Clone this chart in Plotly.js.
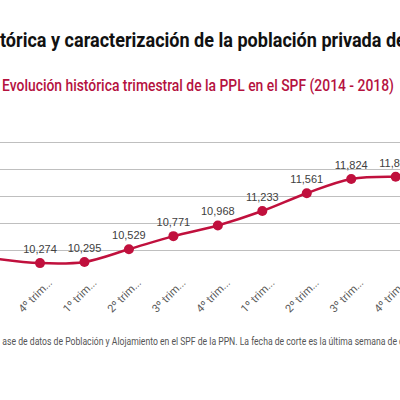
<!DOCTYPE html>
<html>
<head>
<meta charset="utf-8">
<script src="https://cdn.plot.ly/plotly-3.0.1.min.js"></script>
<style>
html,body{margin:0;padding:0;background:#fff;}
#chart{width:400px;height:400px;}
</style>
</head>
<body>
<div id="chart"></div>
<script>
// Data (visible part of the series)
const categories = ["3º trimestre 2015","4º trimestre 2015","1º trimestre 2016","2º trimestre 2016","3º trimestre 2016","4º trimestre 2016","1º trimestre 2017","2º trimestre 2017","3º trimestre 2017","4º trimestre 2017"];
const tickLabels = ["3º trim...","4º trim...","1º trim...","2º trim...","3º trim...","4º trim...","1º trim...","2º trim...","3º trim...","4º trim..."];
const pplValues = [10356, 10274, 10295, 10529, 10771, 10968, 11233, 11561, 11824, 11866];
const gridValues = [10500, 11000, 11500, 12000, 12500];

const titleText = "tórica y caracterización de la población privada de";
const subtitleText = "Evolución histórica trimestral de la PPL en el SPF (2014 - 2018)";
const footerText = "ase de datos de Población y Alojamiento en el SPF de la PPN. La fecha de corte es la última semana de c";

const idx = categories.map((c, i) => i);
const fam = 'Roboto, "Liberation Sans", sans-serif';

const trace = {
  x: idx,
  y: pplValues,
  customdata: categories,
  type: 'scatter',
  mode: 'lines+markers+text',
  line: {color: '#c0103d', width: 2.5, shape: 'spline', smoothing: 1},
  marker: {color: '#c0103d', size: 10},
  texttemplate: '%{y:,}',
  textposition: 'top center',
  textfont: {family: '"Liberation Sans", Arial, sans-serif', size: 11, color: '#404040'},
  cliponaxis: false,
  hoverinfo: 'skip'
};

const yMin = 10000, yMax = 12560;
const plotBottom = 277.7;
const unitsPerPx = 2500 / 135.2;
const plotTop = plotBottom - (yMax - yMin) / unitsPerPx;
const plotH = plotBottom - plotTop;
const py = p => (plotBottom - p) / plotH;

const layout = {
  width: 400, height: 400,
  margin: {l: 0, r: 0, t: plotTop, b: 400 - plotBottom, pad: 0},
  paper_bgcolor: '#ffffff',
  plot_bgcolor: '#ffffff',
  showlegend: false,
  title: {
    text: '<b>' + titleText + '</b>',
    x: 0, xref: 'container', xanchor: 'left',
    y: 1 - 40 / 400, yref: 'container', yanchor: 'middle',
    font: {family: fam, size: 21, color: '#111111'}
  },
  xaxis: {
    range: [0.1003, 9.097],
    tickmode: 'array',
    tickvals: idx,
    ticktext: tickLabels,
    tickangle: -45,
    showgrid: false,
    zeroline: false,
    showline: false,
    ticks: '',
    ticklabelstandoff: -5,
    ticklabelshift: 9,
    ticklabeloverflow: 'allow',
    tickfont: {family: fam, size: 11, color: '#595959'},
    fixedrange: true
  },
  yaxis: {
    range: [yMin, yMax],
    tickmode: 'array',
    tickvals: gridValues,
    showticklabels: false,
    showgrid: true,
    gridcolor: '#bfbfbf',
    gridwidth: 1,
    zeroline: false,
    showline: false,
    ticks: '',
    fixedrange: true
  },
  annotations: [
    {
      text: subtitleText,
      xref: 'paper', yref: 'paper', x: 0, y: py(85),
      xanchor: 'left', yanchor: 'middle', showarrow: false,
      font: {family: fam, size: 17, weight: 500, color: '#b5123f'}
    },
    {
      text: footerText,
      xref: 'paper', yref: 'paper', x: 0, y: py(341),
      xanchor: 'left', yanchor: 'middle', showarrow: false,
      font: {family: fam, size: 10, color: '#555555'}
    }
  ]
};

// Horizontally condense a text element so it spans targetWidth from its left edge
function condense(el, targetWidth) {
  if (!el) return;
  const bb = el.getBBox();
  if (!bb.width) return;
  const s = targetWidth / bb.width;
  const x0 = bb.x;
  const prev = el.getAttribute('transform') || '';
  el.setAttribute('transform', prev + ` translate(${x0},0) scale(${s},1) translate(${-x0},0)`);
}

Plotly.newPlot('chart', [trace], layout, {displayModeBar: false, staticPlot: true}).then(() => {
  condense(document.querySelector('.gtitle'), 406);
  const ann = document.querySelectorAll('.annotation-text');
  condense(ann[0], 392);
  condense(ann[1], 402);
});
</script>
</body>
</html>
